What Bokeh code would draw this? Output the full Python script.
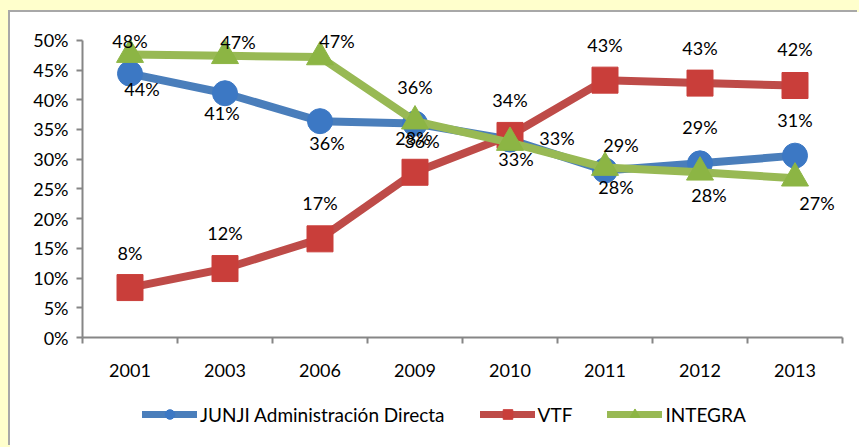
from bokeh.plotting import figure
from bokeh.layouts import column
from bokeh.models import (FixedTicker, Legend, LegendItem, ColumnDataSource,
                          GlobalInlineStyleSheet, Range1d)
from bokeh.core.properties import value
from bokeh.embed import file_html
from bokeh.resources import INLINE

# ---- data ----
years = ["2001", "2003", "2006", "2009", "2010", "2011", "2012", "2013"]
junji = [44.4, 41.1, 36.4, 36.0, 33.3, 28.1, 29.3, 30.6]
vtf = [8.4, 11.6, 16.6, 27.8, 34.0, 43.3, 42.8, 42.4]
integra = [47.6, 47.4, 47.2, 36.4, 32.8, 28.6, 27.8, 26.8]
series_names = ["JUNJI Administración Directa", "VTF", "INTEGRA"]
y_ticks = [0, 5, 10, 15, 20, 25, 30, 35, 40, 45, 50]

# label offsets in pixels (dx, dy; dy positive = down)
junji_off = [(12, 15), (-3, 20), (7, 22), (7, 17), (47, -2), (11, 17), (0, -36), (0, -36)]
vtf_off = [(0, -35), (0, -36), (0, -36), (-2, -34), (0, -35), (0, -35), (0, -35), (0, -37)]
integra_off = [(0, -14), (13, -14), (17, -16), (0, -34), (6, 16), (16, -23), (9, 23), (22, 25)]

FONT = "Lato"
FS = "18px"
x = [i + 0.5 for i in range(len(years))]

# y range extends a little above 50% so the top data labels are not clipped
p = figure(width=849, height=380, output_backend="svg", toolbar_location=None,
           x_range=Range1d(0, len(years)), y_range=Range1d(0, 53),
           min_border_left=72, min_border_right=17, min_border_top=10,
           min_border_bottom=55, background_fill_color="white",
           border_fill_color="white", outline_line_color=None)
p.grid.visible = False

# axes
ax = p.xaxis[0]
ax.ticker = FixedTicker(ticks=x, minor_ticks=list(range(len(years) + 1)))
ax.major_label_overrides = {xi: y for xi, y in zip(x, years)}
ax.major_tick_out = 0
ax.major_tick_in = 0
ax.minor_tick_out = 6
ax.minor_tick_in = 0
ax.minor_tick_line_color = "#868686"
ax.axis_line_color = "#868686"
ax.axis_line_width = 2
ax.minor_tick_line_width = 2
ax.major_label_standoff = 20
ax.major_label_text_font = FONT
ax.major_label_text_font_size = FS
ax.major_label_text_color = "black"

ay = p.yaxis[0]
ay.ticker = FixedTicker(ticks=y_ticks)
ay.bounds = (y_ticks[0], y_ticks[-1])
ay.major_label_overrides = {t: f"{t}%" for t in y_ticks}
ay.major_tick_out = 6
ay.major_tick_in = 0
ay.minor_tick_out = 0
ay.minor_tick_in = 0
ay.major_tick_line_color = "#868686"
ay.major_tick_line_width = 2
ay.axis_line_color = "#868686"
ay.axis_line_width = 2
ay.major_label_standoff = 8
ay.major_label_text_font = FONT
ay.major_label_text_font_size = FS
ay.major_label_text_color = "black"

line_colors = ["#4A7EBB", "#BE4B48", "#98B954"]
marker_colors = ["#3C78C4", "#C93E3A", "#8CB544"]
markers = ["circle", "square", "triangle"]
sizes = [25, 26, 27]
all_vals = [junji, vtf, integra]
all_off = [junji_off, vtf_off, integra_off]

for vals, lc, mc, mk, sz in zip(all_vals, line_colors, marker_colors, markers, sizes):
    src = ColumnDataSource(dict(x=x, y=vals))
    p.line("x", "y", source=src, line_color=lc, line_width=8,
           line_join="round", line_cap="round")
    p.scatter("x", "y", source=src, marker=mk, size=sz, fill_color=mc,
              line_color=mc, line_width=1)

# data labels drawn after all lines/markers
for vals, offs in zip(all_vals, all_off):
    src = ColumnDataSource(dict(
        x=x, y=vals, t=[f"{round(v)}%" for v in vals],
        dx=[o[0] for o in offs], dy=[o[1] for o in offs]))
    p.text("x", "y", text="t", source=src, x_offset="dx", y_offset="dy",
           text_align="center", text_baseline="middle",
           text_font=value(FONT), text_font_size=FS, text_color="black")

# ---- legend strip (separate figure below the chart; its view range is
# set away from the data so only the legend is visible) ----
lg = figure(width=849, height=55, output_backend="svg", toolbar_location=None,
            x_range=Range1d(0, len(years)), y_range=Range1d(-3, -2),
            x_axis_type=None, y_axis_type=None,
            min_border_left=0, min_border_right=0, min_border_top=0,
            min_border_bottom=0, background_fill_color="white",
            border_fill_color="white", outline_line_color=None)
lg.grid.visible = False
items = []
for name, vals, lc, mc, mk in zip(series_names, all_vals, line_colors,
                                  marker_colors, markers):
    src = ColumnDataSource(dict(x=x, y=vals))
    ln = lg.line("x", "y", source=src, line_color=lc, line_width=7, line_cap="round")
    sc = lg.scatter("x", "y", source=src, marker=mk, fill_color=mc, line_color=mc)
    items.append(LegendItem(label=name, renderers=[ln, sc]))

legend = Legend(items=items, orientation="horizontal", location=(60, 21),
                border_line_color=None, background_fill_alpha=0,
                padding=0, margin=0, spacing=35, glyph_width=55,
                glyph_height=24, label_height=24, label_standoff=3,
                label_text_font=FONT, label_text_font_size="19px",
                label_text_color="black")
lg.add_layout(legend, "center")

layout = column(p, lg, spacing=0)
layout.stylesheets = [GlobalInlineStyleSheet(
    css="html, body { margin: 0 !important; background: #FFFFCC; } "
        "body { padding: 12px 0 0 10px !important; box-sizing: border-box; }")]
layout.styles = {"box-shadow": "-2px -2px 0 0 #A8A8A8", "background-color": "white"}

open("out.html", "w").write(file_html(layout, INLINE))
